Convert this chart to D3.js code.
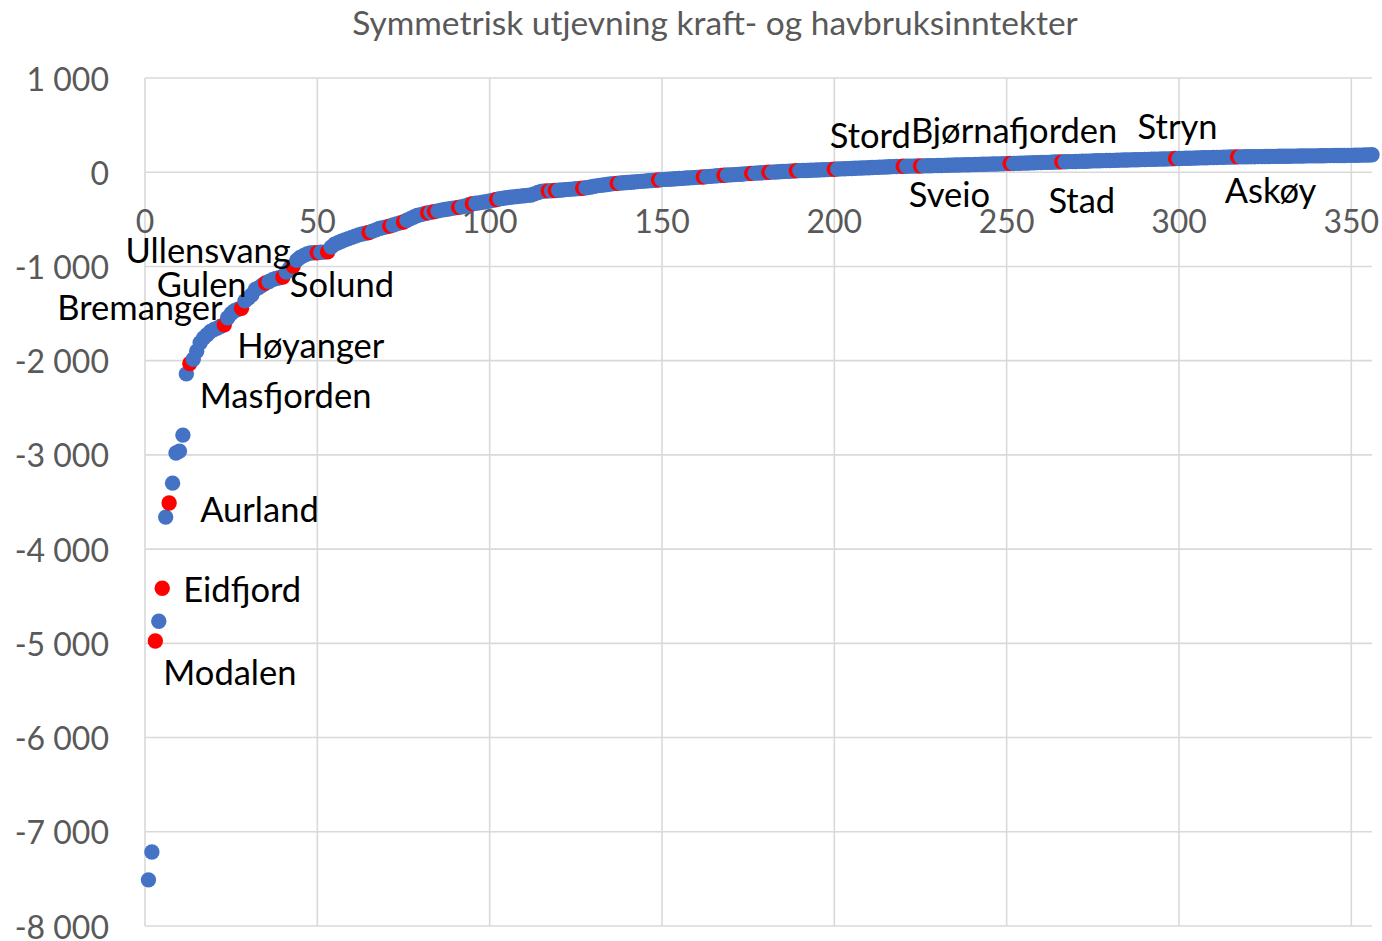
<!DOCTYPE html>
<html>
<head>
<meta charset="utf-8">
<script src="https://cdn.jsdelivr.net/npm/d3@7"></script>
<style>
	body { margin: 0; background: #fff; }
	text { font-family: Lato, "Open Sans", sans-serif; }
</style>
</head>
<body>
<script>
//chart title
var title = "Symmetrisk utjevning kraft- og havbruksinntekter";

//net effect per municipality, sorted ascending (rank 1..356)
var values = [
	-7510, -7215, -4975, -4765, -4415, -3660, -3510, -3300, -2980, -2960,
	-2790, -2140, -2030, -1985, -1900, -1810, -1760, -1725, -1690, -1670,
	-1655, -1635, -1620, -1545, -1500, -1470, -1455, -1445, -1365, -1335,
	-1300, -1245, -1225, -1200, -1175, -1160, -1140, -1128, -1120, -1112,
	-1060, -1015, -995, -935, -905, -885, -868, -858, -855, -855,
	-850, -848, -845, -795, -765, -748, -732, -718, -705, -692,
	-678, -665, -655, -648, -640, -625, -612, -598, -588, -580,
	-572, -560, -548, -538, -528, -510, -492, -475, -460, -450,
	-440, -432, -425, -418, -410, -402, -396, -390, -384, -378,
	-373, -366, -358, -346, -335, -330, -325, -318, -312, -305,
	-298, -290, -282, -276, -270, -266, -262, -258, -254, -250,
	-246, -242, -230, -215, -205, -200, -198, -196, -194, -191,
	-188, -185, -182, -179, -176, -173, -170, -165, -160, -152,
	-145, -140, -135, -130, -125, -121, -118, -115, -112, -109,
	-106, -103, -100, -97, -94, -91, -88, -85, -82, -79,
	-76, -74, -72, -70, -67, -65, -62, -60, -57, -55,
	-52, -50, -47, -44, -41, -38, -35, -32, -30, -28,
	-26, -23, -21, -18, -15, -12, -10, -8, -5, -3,
	-1, 1, 3, 5, 7, 9, 11, 13, 15, 17,
	18, 19, 21, 22, 24, 25, 27, 28, 30, 32,
	34, 35, 37, 38, 40, 42, 43, 45, 46, 48,
	50, 51, 53, 54, 56, 58, 59, 61, 62, 64,
	64, 65, 65, 66, 66, 67, 68, 69, 70, 71,
	72, 73, 74, 75, 76, 77, 78, 79, 80, 81,
	82, 83, 84, 85, 86, 87, 88, 89, 90, 91,
	92, 93, 94, 96, 97, 98, 99, 100, 102, 103,
	104, 105, 106, 108, 109, 110, 111, 112, 113, 114,
	115, 116, 117, 118, 120, 121, 122, 123, 124, 125,
	126, 127, 128, 129, 130, 131, 132, 133, 134, 135,
	136, 137, 138, 139, 140, 141, 142, 143, 145, 146,
	147, 148, 149, 150, 151, 152, 153, 154, 155, 156,
	157, 158, 159, 160, 161, 162, 163, 163, 164, 164,
	165, 165, 166, 166, 167, 167, 168, 168, 169, 169,
	170, 170, 171, 171, 172, 172, 173, 173, 174, 174,
	175, 175, 176, 176, 177, 177, 178, 178, 179, 179,
	180, 180, 181, 182, 183, 185
];

//ranks of the highlighted (red) municipalities
var redRanks = [3, 5, 7, 13, 23, 28, 35, 40, 43, 50, 53, 65, 71, 75, 82, 84,
	91, 95, 102, 117, 119, 127, 137, 149, 162, 168, 176, 181, 189, 200,
	220, 225, 251, 266, 299, 317];

//labelled municipalities and their ranks
var labelNames = ["Modalen", "Eidfjord", "Aurland", "Masfjorden", "Høyanger",
	"Bremanger", "Gulen", "Solund", "Ullensvang", "Stord", "Sveio",
	"Bjørnafjorden", "Stad", "Stryn", "Askøy"];
var labelRanks = [3, 5, 7, 13, 23, 28, 35, 40, 43, 200, 225, 251, 266, 299, 317];

//axis ticks
var xTicks = [0, 50, 100, 150, 200, 250, 300, 350];
var yTicks = [1000, 0, -1000, -2000, -3000, -4000, -5000, -6000, -7000, -8000];

window.onload = drawChart();

function drawChart(){

	var width = 1382,
		height = 941;

	//plot area edges
	var left = 145, right = 1372, top = 78, bottom = 926;

	var svg = d3.select("body")
		.append("svg")
		.attr("width", width)
		.attr("height", height);

	var x = d3.scaleLinear()
		.domain([0, 356])
		.range([left, right]);

	var y = d3.scaleLinear()
		.domain([-8000, 1000])
		.range([bottom, top]);

	//space as thousands separator, plain hyphen minus
	var fmt = d3.formatLocale({decimal: ",", thousands: " ", grouping: [3], currency: ["", " kr"], minus: "-"}).format(",d");

	//title
	svg.append("text")
		.attr("x", 715)
		.attr("y", 22)
		.attr("text-anchor", "middle")
		.attr("dominant-baseline", "central")
		.attr("fill", "#595959")
		.style("font-size", "33.5px")
		.text(title);

	//gridlines
	svg.append("g")
		.selectAll("line")
		.data(yTicks)
		.enter()
		.append("line")
		.attr("x1", left)
		.attr("x2", right)
		.attr("y1", function(d){ return y(d); })
		.attr("y2", function(d){ return y(d); })
		.attr("stroke", "#d9d9d9")
		.attr("stroke-width", 1.6);

	svg.append("g")
		.selectAll("line")
		.data(xTicks)
		.enter()
		.append("line")
		.attr("x1", function(d){ return x(d); })
		.attr("x2", function(d){ return x(d); })
		.attr("y1", top)
		.attr("y2", bottom)
		.attr("stroke", "#d9d9d9")
		.attr("stroke-width", 1.6);

	//y axis labels
	svg.append("g")
		.selectAll("text")
		.data(yTicks)
		.enter()
		.append("text")
		.attr("x", 109)
		.attr("y", function(d){ return y(d); })
		.attr("text-anchor", "end")
		.attr("dominant-baseline", "central")
		.attr("fill", "#595959")
		.style("font-size", "32px")
		.text(fmt);

	//x axis labels, hanging below the zero line
	svg.append("g")
		.selectAll("text")
		.data(xTicks)
		.enter()
		.append("text")
		.attr("x", function(d){ return x(d); })
		.attr("y", y(0) + 48)
		.attr("text-anchor", "middle")
		.attr("dominant-baseline", "central")
		.attr("fill", "#595959")
		.style("font-size", "32px")
		.text(fmt);

	//points, drawn in rank order so later points overlap earlier ones
	var points = values.map(function(v, i){
		return {rank: i + 1, value: v, red: redRanks.indexOf(i + 1) >= 0};
	});

	svg.append("g")
		.selectAll("circle")
		.data(points)
		.enter()
		.append("circle")
		.attr("cx", function(d){ return x(d.rank); })
		.attr("cy", function(d){ return y(d.value); })
		.attr("r", 7.7)
		.attr("fill", function(d){ return d.red ? "#ff0000" : "#4472c4"; });

	//label placement relative to the point: dx, dy (to text middle), anchor
	var labelOffset = {
		"Modalen": [8, 31, "start"],
		"Eidfjord": [21, 0, "start"],
		"Aurland": [31, 6, "start"],
		"Masfjorden": [10, 31, "start"],
		"Høyanger": [13, 20, "start"],
		"Bremanger": [-19, -2, "end"],
		"Gulen": [-19, 1, "end"],
		"Solund": [7, 7, "start"],
		"Ullensvang": [-85, -16, "middle"],
		"Stord": [36, -35, "middle"],
		"Sveio": [29, 27, "middle"],
		"Bjørnafjorden": [4, -34, "middle"],
		"Stad": [20, 38, "middle"],
		"Stryn": [2, -33, "middle"],
		"Askøy": [33, 33, "middle"]
	};

	svg.append("g")
		.selectAll("text")
		.data(labelNames)
		.enter()
		.append("text")
		.attr("x", function(d, i){ return x(labelRanks[i]) + labelOffset[d][0]; })
		.attr("y", function(d, i){ return y(values[labelRanks[i] - 1]) + labelOffset[d][1]; })
		.attr("text-anchor", function(d){ return labelOffset[d][2]; })
		.attr("dominant-baseline", "central")
		.attr("fill", "#000")
		.style("font-size", "34.5px")
		.text(function(d){ return d; });
};
</script>
</body>
</html>
